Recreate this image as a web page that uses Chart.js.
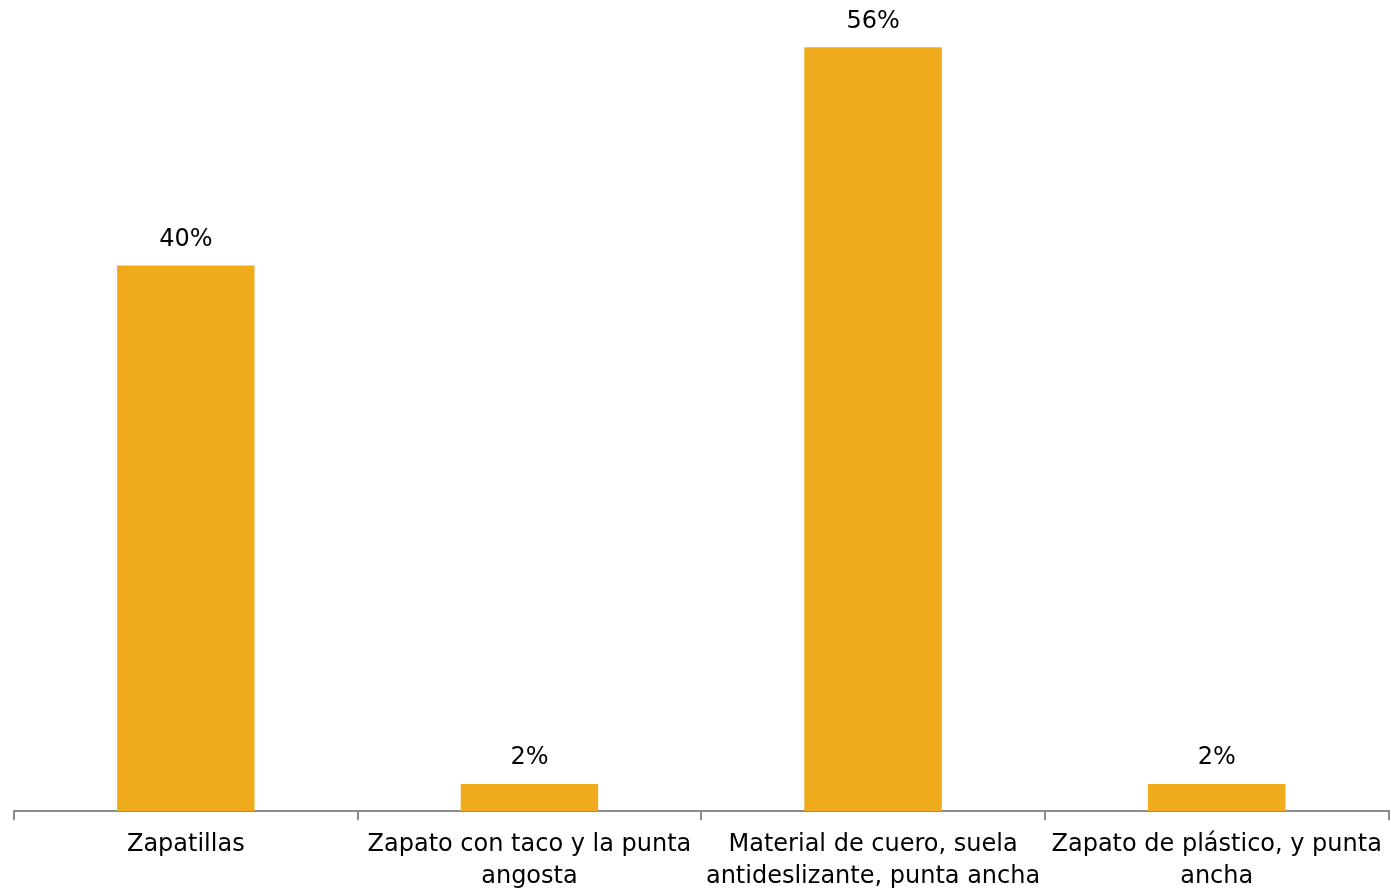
<!DOCTYPE html>
<html>
<head>
<meta charset="utf-8">
<script src="https://cdn.jsdelivr.net/npm/chart.js@4"></script>
<style>
  html, body { margin: 0; padding: 0; background: #fff; }
  #wrap { width: 1391px; height: 890px; }
</style>
</head>
<body>
<div id="wrap"><canvas id="myChart"></canvas></div>
<script>
// categories (multi-line labels) and values in %
const categories = [
  ['Zapatillas'],
  ['Zapato con taco y la punta', 'angosta'],
  ['Material de cuero, suela', 'antideslizante, punta ancha'],
  ['Zapato de plástico, y punta', 'ancha']
];
const values = [40, 2, 56, 2];
const valueLabels = ['40%', '2%', '56%', '2%'];

const fontFamily = '"DejaVu Sans", "Open Sans", sans-serif';

// draws the % above each bar
const barLabels = {
  id: 'barLabels',
  afterDatasetsDraw(chart) {
    const ctx = chart.ctx;
    const meta = chart.getDatasetMeta(0);
    ctx.save();
    ctx.font = '24px ' + fontFamily;
    ctx.fillStyle = '#000';
    ctx.textAlign = 'center';
    ctx.textBaseline = 'middle';
    meta.data.forEach(function (bar, i) {
      ctx.fillText(valueLabels[i], bar.x, bar.y - 26);
    });
    ctx.restore();
  }
};

const ctx = document.getElementById('myChart').getContext('2d');
const myChart = new Chart(ctx, {
  type: 'bar',
  data: {
    labels: categories,
    datasets: [{
      data: values,
      backgroundColor: 'rgb(240, 171, 28)',
      categoryPercentage: 0.4,
      barPercentage: 1
    }]
  },
  options: {
    responsive: true,
    maintainAspectRatio: false,
    animation: false,
    layout: { padding: { left: 14, right: 1, top: 20, bottom: -12 } },
    plugins: {
      legend: { display: false },
      tooltip: { enabled: false }
    },
    scales: {
      x: {
        offset: true,
        grid: {
          offset: true,
          drawOnChartArea: false,
          drawTicks: true,
          tickLength: 9,
          color: '#8c8c8c',
          lineWidth: 2
        },
        border: { display: true, color: '#8c8c8c', width: 2 },
        ticks: {
          color: '#000',
          font: { family: fontFamily, size: 24, lineHeight: 1.33 },
          padding: 9,
          maxRotation: 0,
          autoSkip: false
        }
      },
      y: {
        display: false,
        min: 0,
        max: 58
      }
    }
  },
  plugins: [barLabels]
});
</script>
</body>
</html>
